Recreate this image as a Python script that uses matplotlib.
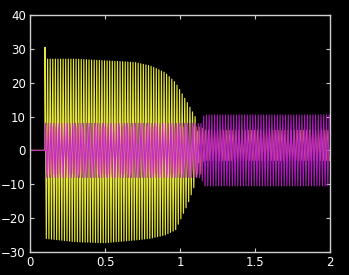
import numpy as np
import matplotlib
matplotlib.use("Agg")
import matplotlib.pyplot as plt

# envelope points (time, upper peak, lower peak)
yel_t = [0.10, 0.30, 0.50, 0.70, 0.80, 0.90, 0.97, 1.05, 1.10, 1.14]
yel_hi = [27.0, 27.0, 26.5, 26.0, 25.0, 23.0, 20.0, 14.0, 10.0, 0.0]
yel_lo = [-26.0, -27.0, -27.3, -26.5, -26.0, -25.0, -23.5, -16.0, -10.0, 0.0]
yel_spike = 30.5

mag_t = [0.10, 1.14, 1.16, 2.00]
mag_hi = [8.0, 8.0, 10.5, 10.5]
mag_lo = [-8.0, -8.0, -10.5, -10.5]

sal_t = [0.10, 1.14, 1.16, 2.00]
sal_hi = [7.0, 7.0, 6.0, 6.0]
sal_lo = [-7.0, -7.0, -3.0, -3.0]

# oscillations per unit time
yel_cyc = 58
mag_cyc = 55
sal_cyc = 49


def zigzag(t, hi, lo, t_end, cyc, phase=0.0):
    # one peak per half cycle, alternating upper/lower envelope
    n = int((t_end - t[0]) * cyc * 2)
    tk = t[0] + (np.arange(n) + phase) / (2 * cyc)
    up = np.interp(tk, t, hi)
    dn = np.interp(tk, t, lo)
    v = np.where(np.arange(n) % 2 == 0, up, dn)
    return np.concatenate([[0.0, t[0]], tk]), np.concatenate([[0.0, 0.0], v])


fig = plt.figure(figsize=(3.49, 2.75), dpi=100, facecolor="black")
ax = fig.add_axes([0.086, 0.084, 0.860, 0.861], facecolor="black")

x, y = zigzag(yel_t, yel_hi, yel_lo, yel_t[-1], yel_cyc)
y[2] = yel_spike
ax.plot(x, y, color="#e6e63a", lw=0.85)

x, y = zigzag(sal_t, sal_hi, sal_lo, 2.0, sal_cyc, 0.7)
ax.plot(x, y, color="#f08060", lw=0.7, alpha=0.85)

x, y = zigzag(mag_t, mag_hi, mag_lo, 2.0, mag_cyc, 0.3)
ax.plot(x, y, color="#c020d0", lw=0.8, alpha=0.9)

ax.set_xlim(0, 2)
ax.set_ylim(-30, 40)
ax.set_xticks([0, 0.5, 1, 1.5, 2])
ax.set_xticklabels(["0", "0.5", "1", "1.5", "2"])
ax.set_yticks([-30, -20, -10, 0, 10, 20, 30, 40])
for s in ax.spines.values():
    s.set_color("#d0d0d0")
    s.set_linewidth(1.0)
ax.tick_params(direction="in", length=3, colors="#d0d0d0", labelcolor="white",
               labelsize=8.5, top=True, right=True, pad=3)

fig.savefig("out.png", dpi=100, facecolor="black")
